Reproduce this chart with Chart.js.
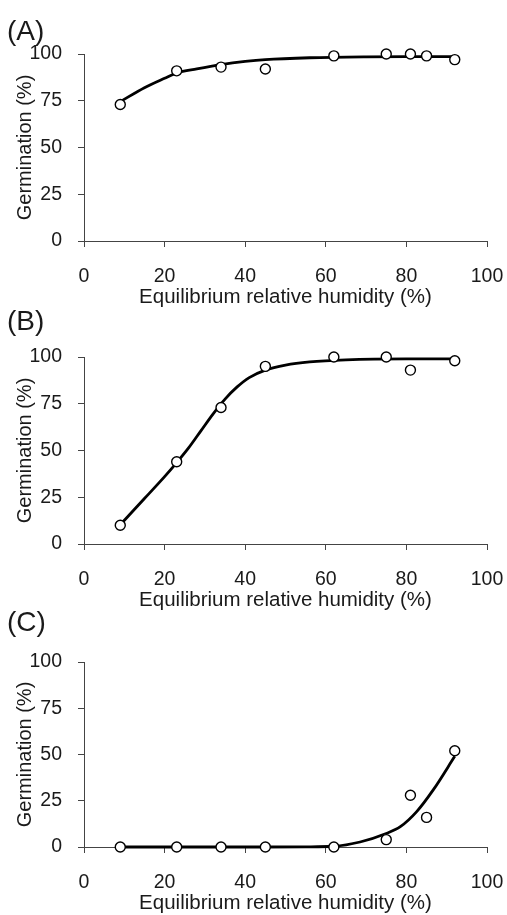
<!DOCTYPE html>
<html>
<head>
<meta charset="utf-8">
<script src="https://cdn.jsdelivr.net/npm/chart.js@4/dist/chart.umd.min.js"></script>
<style>
  body { margin: 0; background: #fff; }
  #wrap { position: relative; width: 507px; height: 915px; overflow: hidden; }
  .panel { position: absolute; left: 0; width: 507px; height: 310px; }
</style>
</head>
<body>
<div id="wrap">
  <div class="panel" style="top:0px"><canvas id="chartA"></canvas></div>
  <div class="panel" style="top:303px"><canvas id="chartB"></canvas></div>
  <div class="panel" style="top:608px"><canvas id="chartC"></canvas></div>
</div>
<script>
// measured points
const humidity = [9, 23, 34, 45, 62, 75, 81, 85, 92];
const germA = [73, 91, 93, 92, 99, 100, 100, 99, 97];
const humidityB = [9, 23, 34, 45, 62, 75, 81, 92];
const germB = [10, 44, 73, 95, 100, 100, 93, 98];
const germC = [0, 0, 0, 0, 0, 4, 28, 16, 52];

// fitted curves
const fitXA = [9, 15, 20, 23, 28, 34, 40, 45, 56, 70, 80, 92];
const fitA = [74.5, 82, 87, 89.8, 92, 94.3, 96, 97, 98, 98.5, 98.6, 98.6];
const fitXB = [9, 15, 20, 23, 26, 29, 32, 35, 38, 41, 45, 50, 56, 65, 80, 92];
const fitB = [10.3, 24.3, 36, 43.5, 51.5, 60.5, 69.5, 77.5, 84, 89, 93, 95.7, 97.4, 98.5, 99, 99];
const fitXC = [9, 45, 55, 62, 68.5, 75, 78.5, 82.5, 86.7, 92];
const fitC = [0, 0, 0.1, 0.4, 2.7, 7.3, 11, 19, 31, 49];

const xTicks = [0, 20, 40, 60, 80, 100];
const yTicks = [0, 25, 50, 75, 100];

const FONT = '"Liberation Sans", Arial, sans-serif';
const axisColor = '#444';
const textColor = '#1a1a1a';

function toXY(xs, ys) {
    return xs.map((x, i) => ({ x: x, y: ys[i] }));
}

function makePanel(id, letter, px, py, fx, fy, opts) {
    const ctx = document.getElementById(id).getContext('2d');
    new Chart(ctx, {
        type: 'scatter',
        data: {
            datasets: [
                {
                    data: toXY(px, py),
                    pointRadius: 5,
                    pointBorderWidth: 1.4,
                    pointBorderColor: '#000',
                    pointBackgroundColor: '#fff',
                    showLine: false,
                    clip: false,
                    order: 0
                },
                {
                    type: 'line',
                    data: toXY(fx, fy),
                    borderColor: '#000',
                    borderWidth: 2.8,
                    pointRadius: 0,
                    cubicInterpolationMode: 'monotone',
                    fill: false,
                    clip: false,
                    order: 1
                }
            ]
        },
        options: {
            responsive: true,
            maintainAspectRatio: false,
            animation: false,
            layout: { padding: { left: 7, right: 20, top: 0, bottom: 0 } },
            plugins: {
                legend: { display: false },
                tooltip: { enabled: false },
                title: {
                    display: true,
                    text: letter,
                    align: 'start',
                    color: textColor,
                    font: { family: FONT, size: 28, weight: 'normal', lineHeight: 1 },
                    padding: { top: opts.titleTop, bottom: 54 - opts.titleTop - 28 }
                }
            },
            scales: {
                x: {
                    type: 'linear',
                    min: 0,
                    max: 100,
                    afterBuildTicks: (s) => { s.ticks = xTicks.map(v => ({ value: v })); },
                    afterFit: (s) => {
                        s.height = 310 - opts.bottom;
                        s.paddingLeft = 0;
                        s.paddingRight = 0;
                    },
                    grid: { drawOnChartArea: false, tickLength: 6, color: axisColor, lineWidth: 1 },
                    border: { color: axisColor, width: 1 },
                    ticks: { color: textColor, padding: 18, font: { family: FONT, size: 19.5 } },
                    title: {
                        display: true,
                        text: 'Equilibrium relative humidity (%)',
                        color: textColor,
                        font: { family: FONT, size: 20.5, lineHeight: 1.2 },
                        padding: { top: 0, bottom: opts.xTitlePad }
                    }
                },
                y: {
                    type: 'linear',
                    min: 0,
                    max: 100,
                    afterBuildTicks: (s) => { s.ticks = yTicks.map(v => ({ value: v })); },
                    afterFit: (s) => { s.width = 77; },
                    grid: { drawOnChartArea: false, tickLength: 6, color: axisColor, lineWidth: 1 },
                    border: { color: axisColor, width: 1 },
                    ticks: { color: textColor, padding: 16, font: { family: FONT, size: 19.5 } },
                    title: {
                        display: true,
                        text: 'Germination (%)',
                        color: textColor,
                        font: { family: FONT, size: 20, lineHeight: 1.2 },
                        padding: { top: 6, bottom: 0 }
                    }
                }
            }
        }
    });
}

makePanel('chartA', '(A)', humidity, germA, fitXA, fitA, { titleTop: 18, bottom: 241, xTitlePad: 0 });
makePanel('chartB', '(B)', humidityB, germB, fitXB, fitB, { titleTop: 5, bottom: 241, xTitlePad: 0 });
makePanel('chartC', '(C)', humidity, germC, fitXC, fitC, { titleTop: 1, bottom: 239, xTitlePad: 2 });
</script>
</body>
</html>
